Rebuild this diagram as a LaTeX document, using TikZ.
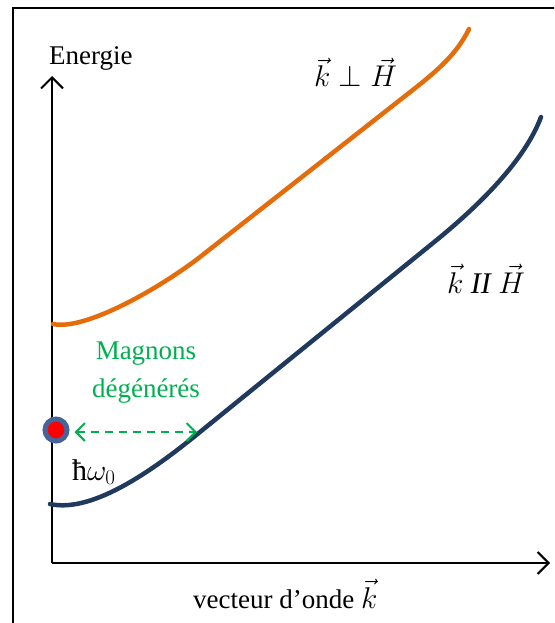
\RequirePackage{fix-cm}
\documentclass[tikz,border=0pt]{standalone}
\usepackage{fontspec}
\setmainfont{Liberation Serif}
\usetikzlibrary{arrows.meta}

\definecolor{curveorange}{HTML}{E46C0A}
\definecolor{curveblue}{HTML}{203A5E}
\definecolor{magnongreen}{HTML}{00B050}
\definecolor{ringblue}{HTML}{45649A}

\begin{document}
\begin{tikzpicture}[
  x=1pt, y=-1pt,
  axis/.style={line width=2pt, -{Straight Barb[length=11pt, width=22pt, line width=2pt]}},
  branch/.style={line width=4.5pt, line cap=round},
  label/.style={inner sep=0pt, anchor=base west, font=\fontsize{27}{32}\selectfont},
  mathlabel/.style={label, font=\fontsize{30}{36}\selectfont},
  degen/.style={line width=2pt, magnongreen, dash pattern=on 8pt off 6pt,
    {Straight Barb[length=9pt, width=18pt, line width=2pt]}-{Straight Barb[length=9pt, width=18pt, line width=2pt]}}
]
\clip (0,0) rectangle (554,623);
\draw[line width=2pt] (13,8) rectangle (600,700);

% axes
\coordinate (origin) at (52,563);
\coordinate (ytip) at (52,76);
\coordinate (xtip) at (550,563);
\draw[axis] (origin) -- (ytip);
\draw[axis] (origin) -- (xtip);

\node[label] (energie) at (49,65) {Energie};
\node[label] (kaxis) at (193,608) {vecteur d’onde {\fontsize{30}{36}\selectfont$\vec{k}$}};

% dispersion branches
\draw[branch, curveorange] (53,324) .. controls (85,331) and (160,288) .. (200,257)
  -- (400,100) .. controls (430,76.5) and (455,58) .. (469,29);
\draw[branch, curveblue] (50,504) .. controls (95,514) and (160,464.5) .. (200,432)
  -- (433,243) .. controls (480,205) and (525,160) .. (541,117);

\node[mathlabel] (kperp) at (314,87) {$\vec{k}\perp\vec{H}$};
\node[mathlabel] (kpar) at (447,293) {$\vec{k}\ \mathit{II}\ \vec{H}$};

% degenerate magnons
\node[circle, fill=red, draw=ringblue, line width=5pt, minimum size=22pt, inner sep=0pt] (dot) at (56,430) {};
\coordinate (cross) at (197,432);
\draw[degen] (dot.east) ++(5,2) coordinate (dstart) -- (cross);
\node[inner sep=0pt, align=center, magnongreen, font=\fontsize{27}{38}\selectfont] (magnons) at (146,373) {Magnons\\dégénérés};
\node[mathlabel] (hbar) at (72,480) {ħ$\omega_0$};
\end{tikzpicture}
\end{document}
